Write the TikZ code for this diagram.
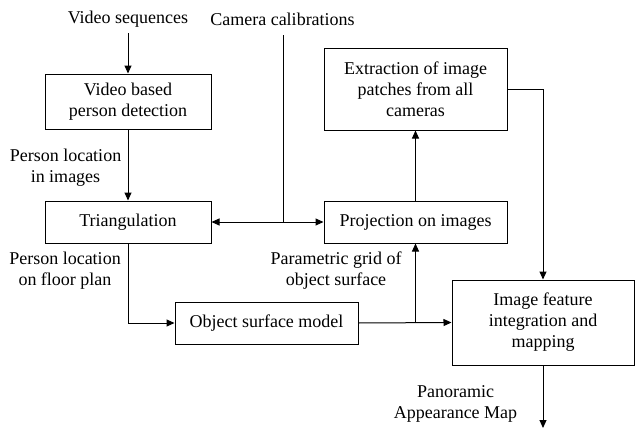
\documentclass[tikz,border=0pt]{standalone}
\usepackage{fontspec}
\setmainfont{Liberation Serif}
\newfontfamily\tnr{Liberation Serif}
\usetikzlibrary{arrows.meta}
\begin{document}
\begin{tikzpicture}[x=1pt,y=-1pt,
  font=\tnr\fontsize{18}{21}\selectfont,
  box/.style={draw,line width=1pt,align=center,inner sep=0pt,anchor=center},
  lbl/.style={align=center,inner sep=0pt,anchor=center},
  conn/.style={line width=1pt},
  arr/.style={conn,-{Triangle[length=8pt,width=7pt]}},
  darr/.style={conn,{Triangle[length=8pt,width=7pt]}-{Triangle[length=8pt,width=7pt]}}]
\useasboundingbox (0,0) rectangle (635,431);
% boxes
\node[box,minimum width=166pt,minimum height=55pt] (vbpd) at (128,101.5) {Video based\\person detection};
\node[box,minimum width=166pt,minimum height=42pt] (tri) at (128,222) {Triangulation};
\node[box,minimum width=183pt,minimum height=42pt] (proj) at (415.5,222) {Projection on images};
\node[box,minimum width=183pt,minimum height=82pt] (extr) at (415.5,89) {Extraction of image\\patches from all\\cameras};
\node[box,minimum width=183pt,minimum height=42pt] (osm) at (266.5,323) {Object surface model};
\node[box,minimum width=182pt,minimum height=85pt] (ifim) at (543,322.5) {Image feature\\integration and\\mapping};
% labels
\node[lbl] (vs) at (128,19) {Video sequences};
\node[lbl] (cc) at (282.5,19) {Camera calibrations};
\node[lbl] (pli) at (65.5,167.5) {Person location\\in images};
\node[lbl] (plf) at (65,270.5) {Person location\\on floor plan};
\node[lbl] (pg) at (336,270.5) {Parametric grid of\\object surface};
\node[lbl] (pam) at (455.5,403.5) {Panoramic\\Appearance Map};
% coordinates
\coordinate (vsend) at (128,33);
\coordinate (ccend) at (283,35);
\coordinate (ccjoin) at (283,222);
\coordinate (br) at (415.5,323);
\coordinate (out) at (543,428);
% connectors
\draw[arr] (vsend) -- (vbpd.north);
\draw[arr] (vbpd.south) -- (tri.north);
\draw[conn] (ccend) -- (ccjoin);
\draw[darr] (tri.east) -- (proj.west);
\draw[arr] (tri.south) |- (osm.west);
\draw[arr] (osm.east) -- (ifim.west);
\draw[arr] (br) -- (proj.south);
\draw[arr] (proj.north) -- (extr.south);
\draw[arr] (extr.east) -| (ifim.north);
\draw[arr] (ifim.south) -- (out);
\end{tikzpicture}
\end{document}
